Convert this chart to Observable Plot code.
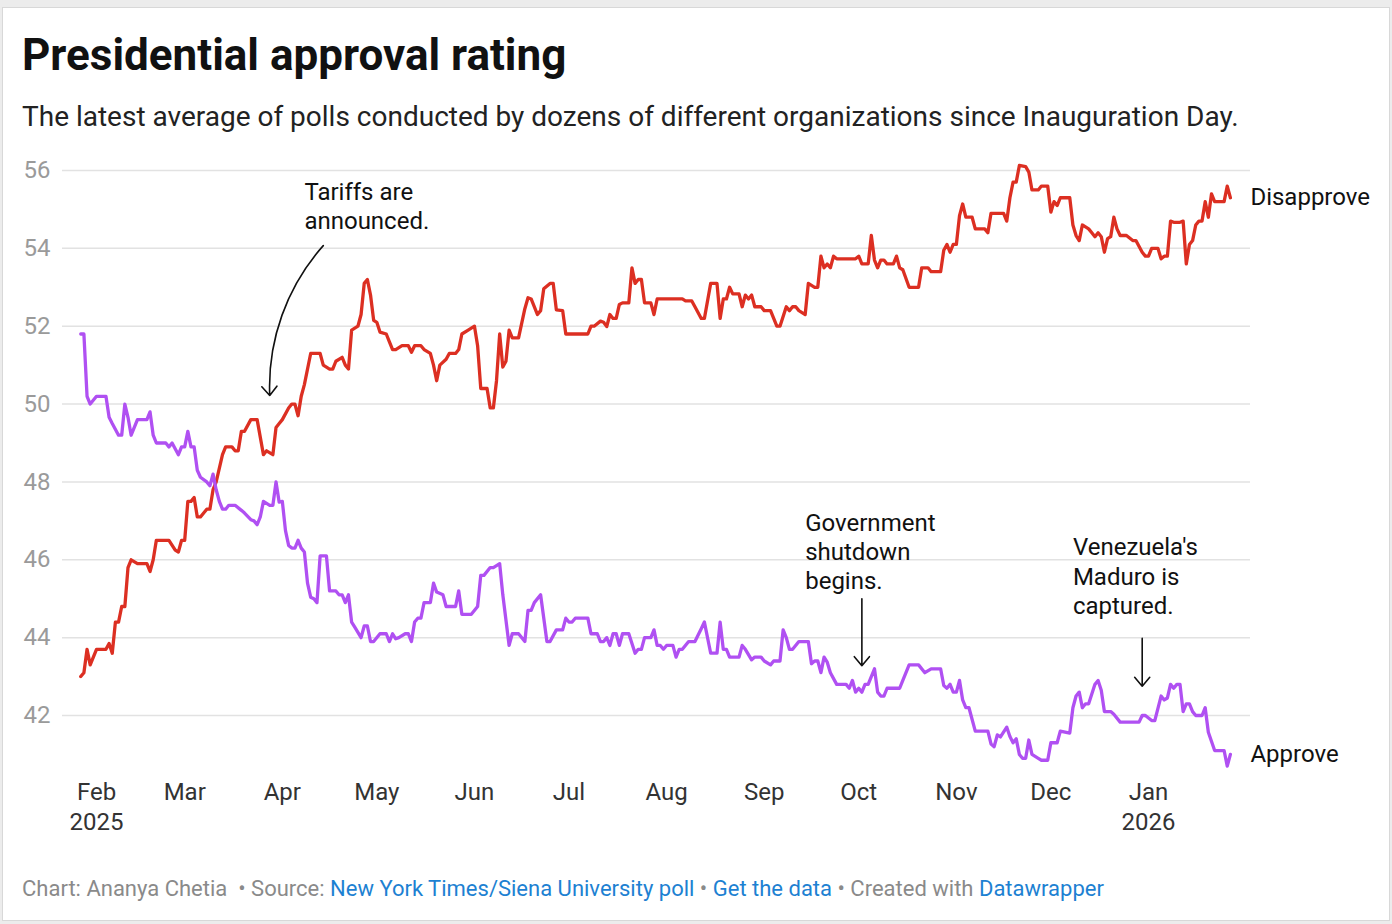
<!DOCTYPE html>
<html>
<head>
<meta charset="utf-8">
<script src="https://cdn.jsdelivr.net/npm/d3@7"></script>
<script src="https://cdn.jsdelivr.net/npm/@observablehq/plot@0.6"></script>
<style>
  html, body { margin: 0; padding: 0; background: #ececec; }
  body { width: 1392px; height: 924px; position: relative; overflow: hidden; font-family: Roboto, "Noto Sans", sans-serif; }
  #card { position: absolute; left: 2px; top: 7px; width: 1386px; height: 912px; background: #fff; border: 1px solid #d8d8d8; }
  .hed { position: absolute; left: 22px; white-space: nowrap; color: #111; }
  #title { top: 33px; font-size: 44px; line-height: 44px; font-weight: 700; }
  #subtitle { top: 103px; font-size: 28px; line-height: 28px; color: #222; }
  #chart { position: absolute; left: 0; top: 140px; }
  #footer { top: 878px; font-size: 22px; line-height: 22px; color: #8a8a8a; }
  #footer a { color: #1d81d2; text-decoration: none; }
</style>
</head>
<body>
<div id="card"></div>
<div id="title" class="hed">Presidential approval rating</div>
<div id="subtitle" class="hed">The latest average of polls conducted by dozens of different organizations since Inauguration Day.</div>
<div id="chart"></div>
<div id="footer" class="hed">Chart: Ananya Chetia &nbsp;• Source: <a href="#">New York Times/Siena University poll</a> • <a href="#">Get the data</a> • Created with <a href="#">Datawrapper</a></div>
<script>
// Polling averages, [date, percent]
const disapprove = [
  ["2025-01-27",43.0],["2025-01-28",43.1],["2025-01-29",43.7],["2025-01-30",43.3],["2025-02-01",43.7],
  ["2025-02-04",43.7],["2025-02-05",43.85],["2025-02-06",43.6],["2025-02-07",44.4],["2025-02-08",44.4],
  ["2025-02-09",44.8],["2025-02-10",44.8],["2025-02-11",45.8],["2025-02-12",46.0],["2025-02-14",45.9],
  ["2025-02-17",45.9],["2025-02-18",45.7],["2025-02-19",46.0],["2025-02-20",46.5],["2025-02-24",46.5],
  ["2025-02-26",46.25],["2025-02-27",46.2],["2025-02-28",46.5],["2025-03-01",46.5],["2025-03-02",47.5],
  ["2025-03-03",47.5],["2025-03-04",47.6],["2025-03-05",47.1],["2025-03-06",47.1],["2025-03-08",47.3],
  ["2025-03-09",47.3],["2025-03-10",47.8],["2025-03-11",48.0],["2025-03-13",48.7],["2025-03-14",48.9],
  ["2025-03-16",48.9],["2025-03-17",48.8],["2025-03-18",48.8],["2025-03-19",49.3],["2025-03-20",49.3],
  ["2025-03-22",49.6],["2025-03-24",49.6],["2025-03-26",48.7],["2025-03-27",48.8],["2025-03-29",48.7],
  ["2025-03-30",49.4],["2025-03-31",49.5],["2025-04-01",49.6],["2025-04-03",49.9],["2025-04-04",50.0],
  ["2025-04-05",50.0],["2025-04-06",49.7],["2025-04-07",50.2],["2025-04-08",50.5],["2025-04-10",51.3],
  ["2025-04-13",51.3],["2025-04-14",51.0],["2025-04-16",50.9],["2025-04-17",50.9],["2025-04-18",51.1],
  ["2025-04-20",51.2],["2025-04-21",51.0],["2025-04-22",50.9],["2025-04-23",51.9],["2025-04-25",52.0],
  ["2025-04-26",52.3],["2025-04-27",53.1],["2025-04-28",53.2],["2025-04-29",52.8],["2025-04-30",52.15],
  ["2025-05-01",52.1],["2025-05-02",51.85],["2025-05-04",51.8],["2025-05-05",51.6],["2025-05-06",51.4],
  ["2025-05-07",51.4],["2025-05-09",51.5],["2025-05-11",51.5],["2025-05-12",51.33],["2025-05-13",51.5],
  ["2025-05-15",51.5],["2025-05-16",51.4],["2025-05-18",51.3],["2025-05-19",51.0],["2025-05-20",50.6],
  ["2025-05-21",51.0],["2025-05-23",51.15],["2025-05-24",51.3],["2025-05-26",51.3],["2025-05-27",51.4],
  ["2025-05-28",51.8],["2025-05-30",51.9],["2025-05-31",51.95],["2025-06-01",52.0],["2025-06-02",51.5],
  ["2025-06-03",50.4],["2025-06-05",50.4],["2025-06-06",49.9],["2025-06-07",49.9],["2025-06-08",50.6],
  ["2025-06-09",51.8],["2025-06-10",50.95],["2025-06-11",51.1],["2025-06-12",51.9],["2025-06-13",51.7],
  ["2025-06-15",51.7],["2025-06-17",52.45],["2025-06-18",52.73],["2025-06-19",52.7],["2025-06-21",52.3],
  ["2025-06-22",52.4],["2025-06-23",52.96],["2025-06-25",53.1],["2025-06-26",53.1],["2025-06-27",52.42],
  ["2025-06-29",52.4],["2025-06-30",51.8],["2025-07-07",51.8],["2025-07-08",52.0],["2025-07-09",52.0],
  ["2025-07-11",52.13],["2025-07-12",52.1],["2025-07-13",51.99],["2025-07-14",52.3],["2025-07-15",52.2],
  ["2025-07-16",52.2],["2025-07-17",52.56],["2025-07-18",52.6],["2025-07-20",52.6],["2025-07-21",53.5],
  ["2025-07-22",53.1],["2025-07-23",53.2],["2025-07-24",53.2],["2025-07-25",52.6],["2025-07-27",52.6],
  ["2025-07-28",52.3],["2025-07-29",52.7],["2025-08-06",52.7],["2025-08-07",52.65],["2025-08-09",52.65],
  ["2025-08-10",52.5],["2025-08-12",52.2],["2025-08-13",52.2],["2025-08-15",53.1],["2025-08-17",53.1],
  ["2025-08-18",52.2],["2025-08-19",52.7],["2025-08-20",52.7],["2025-08-21",53.0],["2025-08-22",52.83],
  ["2025-08-24",52.83],["2025-08-25",52.5],["2025-08-26",52.8],["2025-08-27",52.7],["2025-08-28",52.8],
  ["2025-08-29",52.5],["2025-08-31",52.5],["2025-09-01",52.4],["2025-09-03",52.4],["2025-09-04",52.2],
  ["2025-09-05",52.0],["2025-09-06",52.0],["2025-09-08",52.5],["2025-09-09",52.4],["2025-09-10",52.5],
  ["2025-09-11",52.5],["2025-09-12",52.4],["2025-09-14",52.3],["2025-09-15",53.1],["2025-09-17",53.0],
  ["2025-09-18",53.0],["2025-09-19",53.8],["2025-09-20",53.5],["2025-09-21",53.6],["2025-09-22",53.5],
  ["2025-09-23",53.8],["2025-09-24",53.73],["2025-09-30",53.73],["2025-10-01",53.8],["2025-10-02",53.6],
  ["2025-10-04",53.6],["2025-10-05",54.33],["2025-10-06",53.7],["2025-10-07",53.5],["2025-10-08",53.7],
  ["2025-10-09",53.7],["2025-10-10",53.6],["2025-10-12",53.6],["2025-10-13",53.8],["2025-10-14",53.5],
  ["2025-10-15",53.45],["2025-10-17",53.0],["2025-10-20",53.0],["2025-10-21",53.5],["2025-10-23",53.5],
  ["2025-10-24",53.4],["2025-10-27",53.4],["2025-10-28",53.95],["2025-10-29",54.1],["2025-10-30",53.9],
  ["2025-10-31",54.1],["2025-11-01",54.1],["2025-11-02",54.84],["2025-11-03",55.14],["2025-11-04",54.8],
  ["2025-11-06",54.8],["2025-11-07",54.5],["2025-11-10",54.5],["2025-11-11",54.4],["2025-11-12",54.9],
  ["2025-11-16",54.9],["2025-11-17",54.7],["2025-11-18",55.3],["2025-11-19",55.7],["2025-11-20",55.7],
  ["2025-11-21",56.13],["2025-11-23",56.1],["2025-11-24",55.96],["2025-11-25",55.5],["2025-11-27",55.5],
  ["2025-11-28",55.6],["2025-11-30",55.6],["2025-12-01",54.93],["2025-12-02",55.2],["2025-12-03",55.1],
  ["2025-12-04",55.3],["2025-12-07",55.3],["2025-12-08",54.6],["2025-12-09",54.33],["2025-12-10",54.2],
  ["2025-12-11",54.6],["2025-12-12",54.55],["2025-12-13",54.5],["2025-12-14",54.4],["2025-12-15",54.3],
  ["2025-12-16",54.4],["2025-12-17",54.3],["2025-12-18",53.9],["2025-12-19",54.25],["2025-12-20",54.3],
  ["2025-12-21",54.8],["2025-12-22",54.5],["2025-12-23",54.33],["2025-12-25",54.33],["2025-12-27",54.2],
  ["2025-12-28",54.2],["2025-12-30",53.9],["2025-12-31",53.8],["2026-01-01",53.8],["2026-01-02",54.0],
  ["2026-01-04",54.0],["2026-01-05",53.73],["2026-01-06",53.8],["2026-01-07",53.8],["2026-01-08",54.7],
  ["2026-01-09",54.67],["2026-01-11",54.67],["2026-01-12",54.7],["2026-01-13",53.6],["2026-01-14",54.1],
  ["2026-01-15",54.2],["2026-01-16",54.6],["2026-01-17",54.7],["2026-01-18",54.7],["2026-01-19",55.2],
  ["2026-01-20",54.8],["2026-01-21",55.4],["2026-01-22",55.2],["2026-01-25",55.2],["2026-01-26",55.6],
  ["2026-01-27",55.3]
];

const approve = [
  ["2025-01-27",51.8],["2025-01-28",51.8],["2025-01-29",50.2],["2025-01-30",50.0],["2025-02-01",50.2],
  ["2025-02-04",50.2],["2025-02-05",49.66],["2025-02-06",49.5],["2025-02-08",49.2],["2025-02-09",49.2],
  ["2025-02-10",50.0],["2025-02-11",49.66],["2025-02-12",49.2],["2025-02-14",49.6],["2025-02-17",49.6],
  ["2025-02-18",49.8],["2025-02-19",49.2],["2025-02-20",49.0],["2025-02-23",49.0],["2025-02-24",48.9],
  ["2025-02-25",49.0],["2025-02-27",48.7],["2025-02-28",48.9],["2025-03-01",48.9],["2025-03-02",49.3],
  ["2025-03-03",48.9],["2025-03-04",48.9],["2025-03-05",48.3],["2025-03-06",48.12],["2025-03-08",48.0],
  ["2025-03-09",47.9],["2025-03-10",48.2],["2025-03-11",47.8],["2025-03-12",47.5],["2025-03-13",47.3],
  ["2025-03-14",47.3],["2025-03-15",47.4],["2025-03-17",47.4],["2025-03-19",47.27],["2025-03-20",47.2],
  ["2025-03-22",47.03],["2025-03-23",47.0],["2025-03-24",46.9],["2025-03-25",47.1],["2025-03-26",47.5],
  ["2025-03-28",47.4],["2025-03-29",47.4],["2025-03-30",48.0],["2025-03-31",47.48],["2025-04-01",47.5],
  ["2025-04-02",46.75],["2025-04-03",46.37],["2025-04-04",46.3],["2025-04-05",46.3],["2025-04-06",46.5],
  ["2025-04-07",46.3],["2025-04-08",46.2],["2025-04-09",45.4],["2025-04-10",45.04],["2025-04-11",45.0],
  ["2025-04-12",44.9],["2025-04-13",46.1],["2025-04-15",46.1],["2025-04-16",45.2],["2025-04-18",45.2],
  ["2025-04-19",45.1],["2025-04-20",45.1],["2025-04-21",44.9],["2025-04-22",45.1],["2025-04-23",44.4],
  ["2025-04-24",44.27],["2025-04-26",44.0],["2025-04-27",44.3],["2025-04-28",44.3],["2025-04-29",43.9],
  ["2025-04-30",43.9],["2025-05-02",44.1],["2025-05-04",44.1],["2025-05-05",43.9],["2025-05-06",44.1],
  ["2025-05-07",43.97],["2025-05-08",44.0],["2025-05-10",44.1],["2025-05-11",44.1],["2025-05-12",43.9],
  ["2025-05-13",44.4],["2025-05-14",44.5],["2025-05-15",44.5],["2025-05-16",44.9],["2025-05-18",44.9],
  ["2025-05-19",45.4],["2025-05-20",45.17],["2025-05-22",45.1],["2025-05-23",44.8],["2025-05-26",44.8],
  ["2025-05-27",45.2],["2025-05-28",44.6],["2025-05-31",44.6],["2025-06-02",44.8],["2025-06-03",45.6],
  ["2025-06-04",45.6],["2025-06-06",45.8],["2025-06-07",45.8],["2025-06-09",45.9],["2025-06-10",45.1],
  ["2025-06-12",43.8],["2025-06-13",44.1],["2025-06-15",44.1],["2025-06-17",43.9],["2025-06-18",44.7],
  ["2025-06-19",44.7],["2025-06-20",44.9],["2025-06-22",45.1],["2025-06-24",43.9],["2025-06-25",43.9],
  ["2025-06-27",44.2],["2025-06-29",44.2],["2025-06-30",44.5],["2025-07-01",44.4],["2025-07-02",44.4],
  ["2025-07-03",44.5],["2025-07-07",44.5],["2025-07-08",44.1],["2025-07-10",44.1],["2025-07-11",43.9],
  ["2025-07-12",43.9],["2025-07-13",44.0],["2025-07-14",43.8],["2025-07-15",44.1],["2025-07-16",44.1],
  ["2025-07-17",43.8],["2025-07-18",44.1],["2025-07-20",44.1],["2025-07-22",43.6],["2025-07-23",43.7],
  ["2025-07-24",43.7],["2025-07-25",44.0],["2025-07-27",44.0],["2025-07-28",44.2],["2025-07-29",43.8],
  ["2025-07-30",43.8],["2025-07-31",43.7],["2025-08-01",43.8],["2025-08-03",43.8],["2025-08-04",43.5],
  ["2025-08-05",43.7],["2025-08-06",43.7],["2025-08-08",43.9],["2025-08-10",43.9],["2025-08-12",44.23],
  ["2025-08-13",44.4],["2025-08-15",43.6],["2025-08-17",43.6],["2025-08-18",44.4],["2025-08-19",43.7],
  ["2025-08-20",43.7],["2025-08-21",43.5],["2025-08-24",43.5],["2025-08-25",43.8],["2025-08-26",43.7],
  ["2025-08-28",43.43],["2025-08-29",43.5],["2025-08-31",43.5],["2025-09-01",43.4],["2025-09-03",43.3],
  ["2025-09-04",43.4],["2025-09-06",43.4],["2025-09-07",44.2],["2025-09-08",44.0],["2025-09-09",43.7],
  ["2025-09-10",43.7],["2025-09-12",43.9],["2025-09-15",43.9],["2025-09-16",43.33],["2025-09-17",43.4],
  ["2025-09-18",43.4],["2025-09-19",43.1],["2025-09-20",43.5],["2025-09-21",43.37],["2025-09-22",43.1],
  ["2025-09-24",42.8],["2025-09-27",42.8],["2025-09-28",42.7],["2025-09-29",42.9],["2025-09-30",42.6],
  ["2025-10-01",42.7],["2025-10-02",42.6],["2025-10-03",42.8],["2025-10-04",42.8],["2025-10-06",43.2],
  ["2025-10-07",42.6],["2025-10-08",42.5],["2025-10-09",42.5],["2025-10-10",42.7],["2025-10-14",42.7],
  ["2025-10-15",42.9],["2025-10-17",43.3],["2025-10-20",43.3],["2025-10-22",43.1],["2025-10-24",43.2],
  ["2025-10-27",43.2],["2025-10-28",42.77],["2025-10-29",42.7],["2025-10-30",42.8],["2025-10-31",42.6],
  ["2025-11-01",42.6],["2025-11-02",42.9],["2025-11-03",42.4],["2025-11-04",42.2],["2025-11-05",42.2],
  ["2025-11-07",41.6],["2025-11-11",41.6],["2025-11-12",41.27],["2025-11-13",41.2],["2025-11-14",41.5],
  ["2025-11-15",41.45],["2025-11-17",41.7],["2025-11-18",41.46],["2025-11-19",41.3],["2025-11-20",41.4],
  ["2025-11-21",41.0],["2025-11-22",40.9],["2025-11-23",40.9],["2025-11-24",41.37],["2025-11-25",41.0],
  ["2025-11-27",40.9],["2025-11-28",40.85],["2025-11-30",40.85],["2025-12-01",41.3],["2025-12-03",41.3],
  ["2025-12-04",41.6],["2025-12-07",41.55],["2025-12-08",42.2],["2025-12-09",42.5],["2025-12-10",42.6],
  ["2025-12-11",42.2],["2025-12-12",42.3],["2025-12-13",42.3],["2025-12-15",42.8],["2025-12-16",42.9],
  ["2025-12-17",42.65],["2025-12-18",42.1],["2025-12-20",42.1],["2025-12-21",42.03],["2025-12-23",41.83],
  ["2025-12-29",41.83],["2025-12-30",42.0],["2025-12-31",42.0],["2026-01-02",41.87],["2026-01-03",41.87],
  ["2026-01-05",42.5],["2026-01-06",42.4],["2026-01-07",42.45],["2026-01-08",42.8],["2026-01-09",42.7],
  ["2026-01-10",42.8],["2026-01-11",42.8],["2026-01-12",42.1],["2026-01-13",42.3],["2026-01-14",42.3],
  ["2026-01-15",42.1],["2026-01-16",42.0],["2026-01-18",42.0],["2026-01-19",42.2],["2026-01-20",41.57],
  ["2026-01-22",41.1],["2026-01-25",41.1],["2026-01-26",40.7],["2026-01-27",41.0]
];

const seriesNames = ["Disapprove", "Approve"];
const seriesColors = ["#dc2f22", "#b050f2"];

const yTicks = [42, 44, 46, 48, 50, 52, 54, 56];
const monthTicks = ["2025-02-01","2025-03-01","2025-04-01","2025-05-01","2025-06-01","2025-07-01",
                    "2025-08-01","2025-09-01","2025-10-01","2025-11-01","2025-12-01","2026-01-01"];
const monthLabels = ["Feb\n2025","Mar","Apr","May","Jun","Jul","Aug","Sep","Oct","Nov","Dec","Jan\n2026"];

// Event notes: text anchor point, and arrow from (date1, v1) to (date2, v2)
const noteTexts = ["Tariffs are\nannounced.", "Government\nshutdown\nbegins.", "Venezuela's\nMaduro is\ncaptured."];
const noteDates = ["2025-04-08", "2025-09-14", "2025-12-08"];
const noteValues = [55.76, 47.26, 46.64];
const arrowFrom = [["2025-04-14", 54.07], ["2025-10-02", 45.0], ["2025-12-30", 43.98]];
const arrowTo = [["2025-03-28", 50.22], ["2025-10-02", 43.28], ["2025-12-30", 42.75]];
const arrowBend = [-22, 0, 0];

const parse = d3.utcParse("%Y-%m-%d");
const toRows = (arr, name) => arr.map(([d, v]) => ({date: parse(d), value: v, series: name}));
const rows = [...toRows(disapprove, seriesNames[0]), ...toRows(approve, seriesNames[1])];
const lastPoints = [disapprove, approve].map((arr, i) => {
  const [d, v] = arr[arr.length - 1];
  return {date: parse(d), value: v, series: seriesNames[i]};
});
const tickDates = monthTicks.map(parse);
const labelByTime = new Map(tickDates.map((t, i) => [+t, monthLabels[i]]));
const notes = noteTexts.map((t, i) => ({text: t, date: parse(noteDates[i]), value: noteValues[i]}));
const arrows = arrowFrom.map((f, i) => ({
  x1: parse(f[0]), y1: f[1], x2: parse(arrowTo[i][0]), y2: arrowTo[i][1], bend: arrowBend[i]
}));

const chart = Plot.plot({
  width: 1392,
  height: 700,
  marginLeft: 62,
  marginRight: 142,
  marginTop: 0,
  marginBottom: 62,
  style: {fontFamily: "Roboto, 'Noto Sans', sans-serif", background: "transparent", overflow: "visible"},
  x: {type: "utc", domain: [tickDates[0], tickDates[tickDates.length - 1]], range: [96, 1148]},
  y: {domain: [42, 56], range: [575, 30]},
  color: {domain: seriesNames, range: seriesColors},
  marks: [
    Plot.ruleY(yTicks, {stroke: "#e2e2e2", strokeWidth: 1.5}),
    Plot.axisY({ticks: yTicks, tickSize: 0, tickPadding: 0, textAnchor: "start", dx: -39,
                fontSize: 24, fill: "#9a9a9a", label: null}),
    Plot.axisX({ticks: tickDates, tickFormat: d => labelByTime.get(+d), tickSize: 0, tickPadding: 0,
                fontSize: 24, fill: "#333", lineHeight: 1.25, label: null}),
    Plot.line(rows, {x: "date", y: "value", z: "series", stroke: "series", strokeWidth: 3.3,
                     strokeLinejoin: "round", strokeLinecap: "round", curve: "linear"}),
    Plot.text(lastPoints, {x: "date", y: "value", text: "series", dx: 20, textAnchor: "start",
                           fontSize: 24, fill: "#111"}),
    ...arrows.map(a => Plot.arrow([a], {x1: "x1", y1: "y1", x2: "x2", y2: "y2", bend: a.bend,
                                        stroke: "#111", strokeWidth: 1.6, headLength: 11, headAngle: 80})),
    Plot.text(notes, {x: "date", y: "value", text: "text", textAnchor: "start", lineAnchor: "top",
                      fontSize: 24, lineHeight: 1.21, fill: "#111"})
  ]
});
document.getElementById("chart").appendChild(chart);
</script>
</body>
</html>
